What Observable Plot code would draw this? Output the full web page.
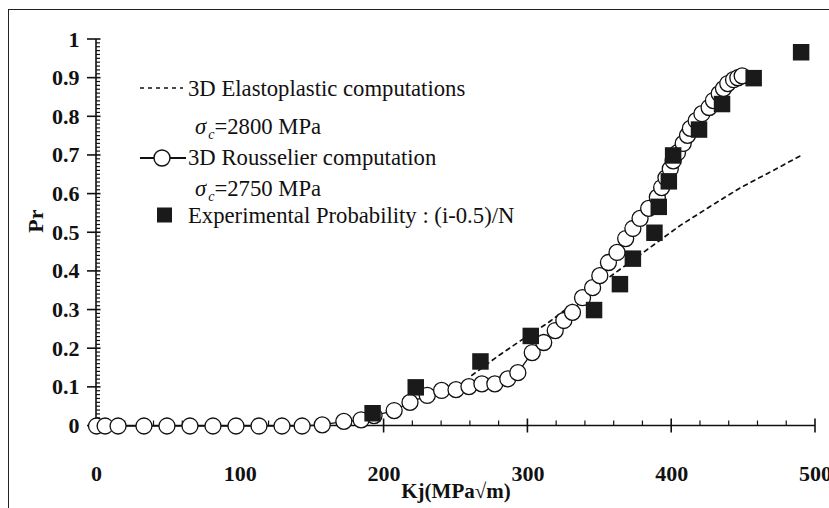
<!DOCTYPE html>
<html><head><meta charset="utf-8">
<script src="https://cdn.jsdelivr.net/npm/d3@7"></script>
<script src="https://cdn.jsdelivr.net/npm/@observablehq/plot@0.6"></script>
<style>
body{margin:0;background:#fff;}
#wrap{position:relative;width:829px;height:508px;overflow:hidden;font-family:"Liberation Serif","Times New Roman",serif;}
#border{position:absolute;left:8px;top:9px;width:840px;height:520px;border-left:1.5px solid #222;border-top:1.5px solid #222;}
#legend{position:absolute;left:0;top:0;}
#chart{position:absolute;left:0;top:0;}
</style></head><body>
<div id="wrap"><div id="border"></div>
<svg id="legend" width="829" height="508" font-family="Liberation Serif, Times New Roman, serif" font-size="22.7">
  <g id="axes"></g>
  <line x1="140" x2="183" y1="88" y2="88" stroke="#111" stroke-width="1.6" stroke-dasharray="4,4"/>
  <text x="188" y="96" fill="#111">3D Elastoplastic computations</text>
  <text x="195" y="134" fill="#111"><tspan font-style="italic">σ</tspan><tspan font-style="italic" font-size="14" dy="5" dx="2">c</tspan><tspan dy="-5">=2800 MPa</tspan></text>
  <line x1="140" x2="186" y1="158" y2="158" stroke="#111" stroke-width="2"/>
  <circle cx="162" cy="158" r="8" fill="#fff" stroke="#111" stroke-width="1.4"/>
  <text x="188" y="165" fill="#111">3D Rousselier computation</text>
  <text x="195" y="196" fill="#111"><tspan font-style="italic">σ</tspan><tspan font-style="italic" font-size="14" dy="5" dx="2">c</tspan><tspan dy="-5">=2750 MPa</tspan></text>
  <rect x="157" y="207.5" width="15" height="15" fill="#1a1a1a"/>
  <text x="188" y="223" fill="#111">Experimental Probability : (i-0.5)/N</text>
</svg>
<div id="chart"></div>
</div>
<script>
// 3D Rousselier computation (sigma_c = 2750 MPa)
const rousKj = [0, 6, 15, 33, 49, 65, 81, 97, 113, 129, 143, 157, 172, 184, 193, 207, 218, 230, 240, 250, 259, 268, 277, 286, 293, 303, 311, 319, 325, 331, 338, 345, 350, 356, 362, 368, 373, 378, 384, 390, 393, 396, 399, 401, 404, 408, 411, 413, 417, 421, 426, 429, 433, 436, 439, 443, 446, 449];
const rousPr = [0, 0, 0, 0, 0, 0, 0, 0, 0, 0, 0, 0.003, 0.012, 0.016, 0.027, 0.04, 0.061, 0.079, 0.092, 0.094, 0.102, 0.109, 0.109, 0.122, 0.138, 0.19, 0.216, 0.247, 0.273, 0.294, 0.332, 0.358, 0.389, 0.423, 0.449, 0.485, 0.511, 0.537, 0.563, 0.592, 0.617, 0.642, 0.665, 0.686, 0.707, 0.731, 0.752, 0.77, 0.79, 0.808, 0.824, 0.842, 0.86, 0.873, 0.886, 0.896, 0.901, 0.906];
// 3D Elastoplastic computations (sigma_c = 2800 MPa)
const elasKj = [261, 280, 295, 314, 337, 361, 385, 406, 428, 448, 470, 490];
const elasPr = [0.131, 0.183, 0.221, 0.267, 0.332, 0.397, 0.462, 0.519, 0.571, 0.617, 0.66, 0.70];
// Experimental probability (i-0.5)/N
const expKj = [192, 222, 267, 302, 346, 364, 373, 388, 391, 398, 401, 419, 435, 457, 490];
const expPr = [0.033, 0.1, 0.167, 0.233, 0.3, 0.367, 0.433, 0.5, 0.567, 0.633, 0.7, 0.767, 0.833, 0.9, 0.967];
// axis ticks
const xMajor = [0, 100, 200, 300, 400, 500];
const yMajor = [0, 0.1, 0.2, 0.3, 0.4, 0.5, 0.6, 0.7, 0.8, 0.9, 1];

const rousData = rousKj.map((k, i) => ({Kj: k, Pr: rousPr[i]}));
const elasData = elasKj.map((k, i) => ({Kj: k, Pr: elasPr[i]}));
const expData = expKj.map((k, i) => ({Kj: k, Pr: expPr[i]}));
const xMinor = d3.range(0, 501, 20).filter(v => v % 100 !== 0);
const yMinor = d3.range(0, 101).map(v => v / 100).filter((v, i) => i % 10 !== 0);

const W = 829, H = 508, ML = 96, MR = 14, MT = 39, MB = 82.5;

// axis lines and tick marks (same domain and range as the plot's scales)
try {
  const X = d3.scaleLinear().domain([0, 500]).range([ML, W - MR]);
  const Y = d3.scaleLinear().domain([0, 1]).range([H - MB, MT]);
  const g = d3.select("#axes");
  const seg = (x1, y1, x2, y2, w) => {
    g.append("line").attr("x1", x1).attr("y1", y1).attr("x2", x2).attr("y2", y2)
      .attr("stroke", "#111").attr("stroke-width", w);
  };
  seg(X(0), Y(0), X(0), Y(1), 1.6);
  seg(X(0), Y(0), X(500), Y(0), 1.6);
  yMinor.forEach(v => seg(X(0), Y(v), X(0) + 4, Y(v), 1.2));
  yMajor.forEach(v => seg(X(0) - 9, Y(v), X(0) + 4.5, Y(v), 1.6));
  xMinor.forEach(v => seg(X(v), Y(0) - 5, X(v), Y(0), 1.2));
  xMajor.forEach(v => seg(X(v), Y(0) - 7, X(v), Y(0) + 7, 1.6));
} catch (e) { console.error(e); }

const plot = Plot.plot({
  width: W, height: H,
  marginLeft: ML, marginRight: MR, marginTop: MT, marginBottom: MB,
  x: {domain: [0, 500], label: null},
  y: {domain: [0, 1], label: null},
  style: {fontFamily: "Liberation Serif, Times New Roman, serif", fontSize: "22px", fontWeight: "bold", color: "#111", background: "transparent", overflow: "visible"},
  marks: [
    Plot.axisY(yMajor, {tickSize: 0, tickPadding: 17, tickFormat: d => String(+d.toFixed(1))}),
    Plot.axisX(xMajor, {tickSize: 0, tickPadding: 39, tickFormat: d => String(d)}),
    Plot.text(["Kj(MPa√m)"], {frameAnchor: "bottom", dy: 72, fontSize: 21, fontWeight: "bold"}),
    Plot.text(["Pr"], {frameAnchor: "left", dx: -61, rotate: -90, fontSize: 22, fontWeight: "bold"}),
    Plot.line(elasData, {x: "Kj", y: "Pr", stroke: "#111", strokeWidth: 1.7, strokeDasharray: "4,4.5"}),
    Plot.line(rousData, {x: "Kj", y: "Pr", stroke: "#111", strokeWidth: 1.3}),
    Plot.dot(rousData, {x: "Kj", y: "Pr", r: 8, fill: "white", stroke: "#111", strokeWidth: 1.3}),
    Plot.dot(expData, {x: "Kj", y: "Pr", symbol: "square", r: 9.3, fill: "#1a1a1a", stroke: "none"})
  ]
});
document.getElementById("chart").appendChild(plot);
</script>
</body></html>
